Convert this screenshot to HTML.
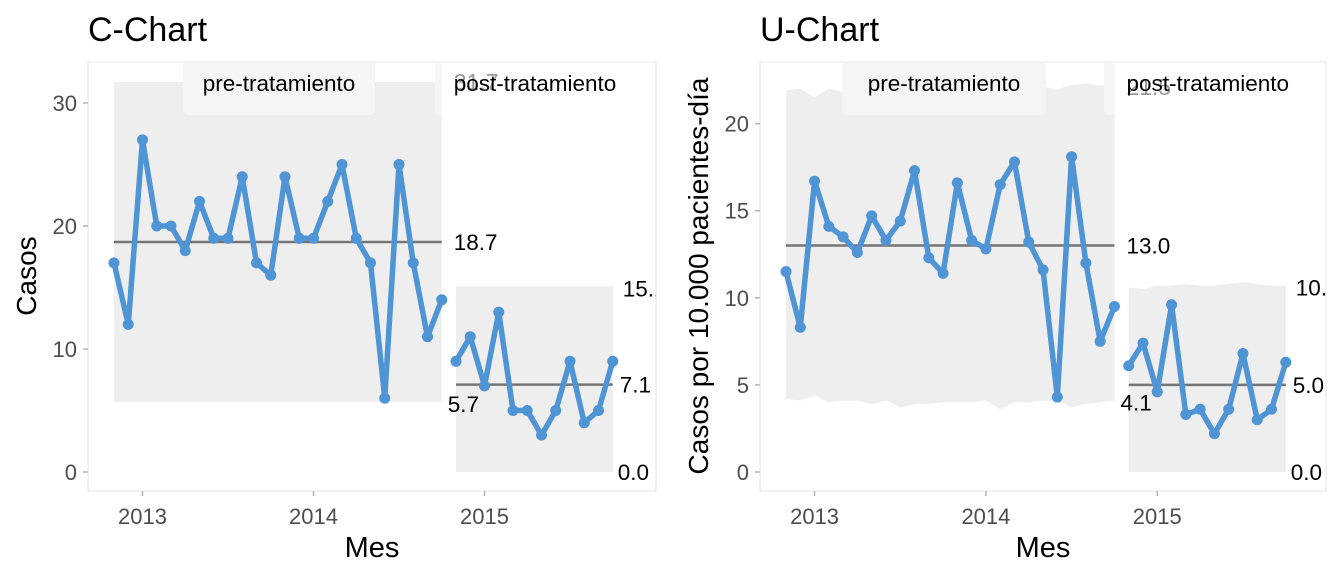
<!DOCTYPE html>
<html><head><meta charset="utf-8"><style>
html,body{margin:0;padding:0;background:#fff;}
svg{display:block;font-family:"Liberation Sans",sans-serif;}
</style></head><body>
<svg id="svg" width="1344" height="576" viewBox="0 0 1344 576"></svg>
<script>
// C-Chart data
const cPre = [17,12,27,20,20,18,22,19,19,24,17,16,24,19,19,22,25,19,17,6,25,17,11,14];
const cPost = [9,11,7,13,5,5,3,5,9,4,5,9];
const cCL = [18.7, 7.1];
const cUCLpre = [31.7,31.7,31.7,31.7,31.7,31.7,31.7,31.7,31.7,31.7,31.7,31.7,31.7,31.7,31.7,31.7,31.7,31.7,31.7,31.7,31.7,31.7,31.7,31.7];
const cLCLpre = [5.7,5.7,5.7,5.7,5.7,5.7,5.7,5.7,5.7,5.7,5.7,5.7,5.7,5.7,5.7,5.7,5.7,5.7,5.7,5.7,5.7,5.7,5.7,5.7];
const cUCLpost = [15.1,15.1,15.1,15.1,15.1,15.1,15.1,15.1,15.1,15.1,15.1,15.1];
const cLCLpost = [0,0,0,0,0,0,0,0,0,0,0,0];
const cTicks = [0,10,20,30];
// U-Chart data
const uPre = [11.5,8.3,16.7,14.1,13.5,12.6,14.7,13.3,14.4,17.3,12.3,11.4,16.6,13.3,12.8,16.5,17.8,13.2,11.6,4.3,18.1,12.0,7.5,9.5];
const uPost = [6.1,7.4,4.6,9.6,3.3,3.6,2.2,3.6,6.8,3.0,3.6,6.3];
const uCL = [13.0, 5.0];
const uUCLpre = [21.9,22.0,21.5,22.0,21.8,22.0,21.8,21.9,21.9,22.0,21.9,21.9,21.9,22.0,22.0,22.1,22.1,22.2,22.1,22.0,22.2,22.3,22.2,22.1];
const uLCLpre = [4.2,4.1,4.4,4.0,4.1,4.1,3.9,4.1,3.7,3.9,3.9,4.0,4.0,4.0,4.1,3.6,4.0,4.0,4.1,4.1,3.7,3.9,4.0,4.1];
const uUCLpost = [10.6,10.5,10.7,10.7,10.8,10.7,10.7,10.8,10.9,10.8,10.7,10.7];
const uLCLpost = [0,0,0,0,0,0,0,0,0,0,0,0];
const uTicks = [0,5,10,15,20];
const yearLabels = ["2013","2014","2015"];
const yearIdx = [2,14,26];

const NS="http://www.w3.org/2000/svg";
const svg=document.getElementById('svg');
const defs=document.createElementNS(NS,'defs');svg.appendChild(defs);
function mk(tag,attrs,parent,text){const e=document.createElementNS(NS,tag);for(const k in attrs)e.setAttribute(k,attrs[k]);if(text!==undefined)e.textContent=text;(parent||svg).appendChild(e);return e;}

function chart(o){
  const g=mk('g',{});
  
  
  const X=i=>o.x0+i*o.dx;
  const Y=v=>o.y0-v*o.sy;
  const cp=mk('clipPath',{id:o.name+'-clip'},defs);
  mk('rect',{x:o.left,y:62,width:o.right-o.left,height:429},cp);
  const t=mk('text',{x:o.left,y:41,'font-size':34,fill:'#000'},g,o.title);
  
  const p=mk('rect',{x:o.left,y:62,width:o.right-o.left,height:429,fill:'#fff',stroke:'#e5e5e5','stroke-width':1},g);
  
  const pg=mk('g',{'clip-path':`url(#${o.name}-clip)`},g);
  
  function band(start,ucl,lcl,nm){
    let pts=[];
    ucl.forEach((v,i)=>pts.push(X(start+i)+','+Y(v)));
    for(let i=lcl.length-1;i>=0;i--)pts.push(X(start+i)+','+Y(lcl[i]));
    const b=mk('polygon',{points:pts.join(' '),fill:'#eeeeee'},pg);
    
  }
  band(0,o.uclPre,o.lclPre,'control-band-pre');
  band(o.pre.length,o.uclPost,o.lclPost,'control-band-post');
  const n=o.pre.length;
  const s1=mk('rect',{x:o.strip1,y:56,width:o.strip1w,height:59,rx:6,fill:'#f5f5f5'},pg);
  
  const s2=mk('rect',{x:o.strip2,y:56,width:X(n-1)-o.strip2,height:59,rx:4,fill:'#f5f5f5'},pg);
  
  const ul=mk('text',{x:X(n-1)+12,y:Y(o.uclPre[n-1])+8,'font-size':23,fill:'#999'},pg,o.uclText);
  
  const l1=mk('text',{x:o.strip1+o.strip1w/2,y:91,'font-size':22.5,'text-anchor':'middle',fill:'#000'},pg,'pre-tratamiento');
  
  const l2=mk('text',{x:X(n-1)+12,y:91,'font-size':22.5,fill:'#000'},pg,'post-tratamiento');
  
  o.ticks.forEach(v=>{
    const tk=mk('line',{x1:o.left-5,x2:o.left,y1:Y(v),y2:Y(v),stroke:'#b3b3b3','stroke-width':1.5},g);
    
    const tl=mk('text',{x:o.left-11,y:Y(v)+8,'font-size':22,'text-anchor':'end',fill:'#4d4d4d'},g,String(v));
    
  });
  yearIdx.forEach((ix,k)=>{
    const tk=mk('line',{x1:X(ix),x2:X(ix),y1:491,y2:496,stroke:'#b3b3b3','stroke-width':1.5},g);
    
    const tl=mk('text',{x:X(ix),y:524,'font-size':22,'text-anchor':'middle',fill:'#4d4d4d'},g,yearLabels[k]);
    
  });
  const xt=mk('text',{x:(o.left+o.right)/2,y:557,'font-size':29,'text-anchor':'middle',fill:'#000'},g,'Mes');
  
  const yt=mk('text',{x:0,y:0,'font-size':28,'text-anchor':'middle',fill:'#000',transform:`translate(${o.ytx},${o.yty}) rotate(-90)`},g,o.ytitle);
  
  const c1=mk('line',{x1:X(0),x2:X(n-1),y1:Y(o.cl[0]),y2:Y(o.cl[0]),stroke:'#757575','stroke-width':2.5},pg);
  
  const c2=mk('line',{x1:X(n),x2:X(n+o.post.length-1),y1:Y(o.cl[1]),y2:Y(o.cl[1]),stroke:'#757575','stroke-width':2.5},pg);
  
  const lbl=(x,y,txt,nm)=>{const e=mk('text',{x:x,y:y,'font-size':22.5,fill:'#000'},pg,txt);};
  lbl(X(n-1)+12,Y(o.cl[0])+8,o.cl[0].toFixed(1),'cl-pre-label');
  lbl(X(n-1)+6,Y(o.lclPre[n-1])+10,o.lclPre[n-1].toFixed(1),'lcl-pre-label');
  const m=n+o.post.length-1;
  lbl(X(m)+7,Y(o.cl[1])+8,o.cl[1].toFixed(1),'cl-post-label');
  lbl(X(m)+5,Y(0)+8,'0.0','lcl-post-label');
  lbl(X(m)+10,Y(o.uclPost[o.uclPost.length-1])+10,o.uclPost[o.uclPost.length-1].toFixed(1),'ucl-post-label');
  const line=(vals,st,nm)=>{
    const pl=mk('polyline',{points:vals.map((v,i)=>X(st+i)+','+Y(v)).join(' '),fill:'none',stroke:'#4f94d4','stroke-width':5.5,'stroke-linejoin':'round'},pg);
    
    vals.forEach((v,i)=>{const c=mk('circle',{cx:X(st+i),cy:Y(v),r:5.5,fill:'#4f94d4'},pg);
      });
  };
  line(o.pre,0,'series-pre');
  line(o.post,n,'series-post');
}
chart({name:'c-chart',title:'C-Chart',left:88,right:656,x0:114,dx:14.25,y0:472,sy:12.3,pre:cPre,post:cPost,cl:cCL,
  uclPre:cUCLpre,lclPre:cLCLpre,uclPost:cUCLpost,lclPost:cLCLpost,ticks:cTicks,strip1:183,strip1w:192,strip2:435,uclText:'31.7',ytitle:'Casos',ytx:36,yty:276});
chart({name:'u-chart',title:'U-Chart',left:760,right:1326,x0:786,dx:14.28,y0:472,sy:17.42,pre:uPre,post:uPost,cl:uCL,
  uclPre:uUCLpre,lclPre:uLCLpre,uclPost:uUCLpost,lclPost:uLCLpost,ticks:uTicks,strip1:842,strip1w:204,strip2:1104,uclText:'21.5',ytitle:'Casos por 10.000 pacientes-día',ytx:708,yty:276});
</script>
</body></html>
